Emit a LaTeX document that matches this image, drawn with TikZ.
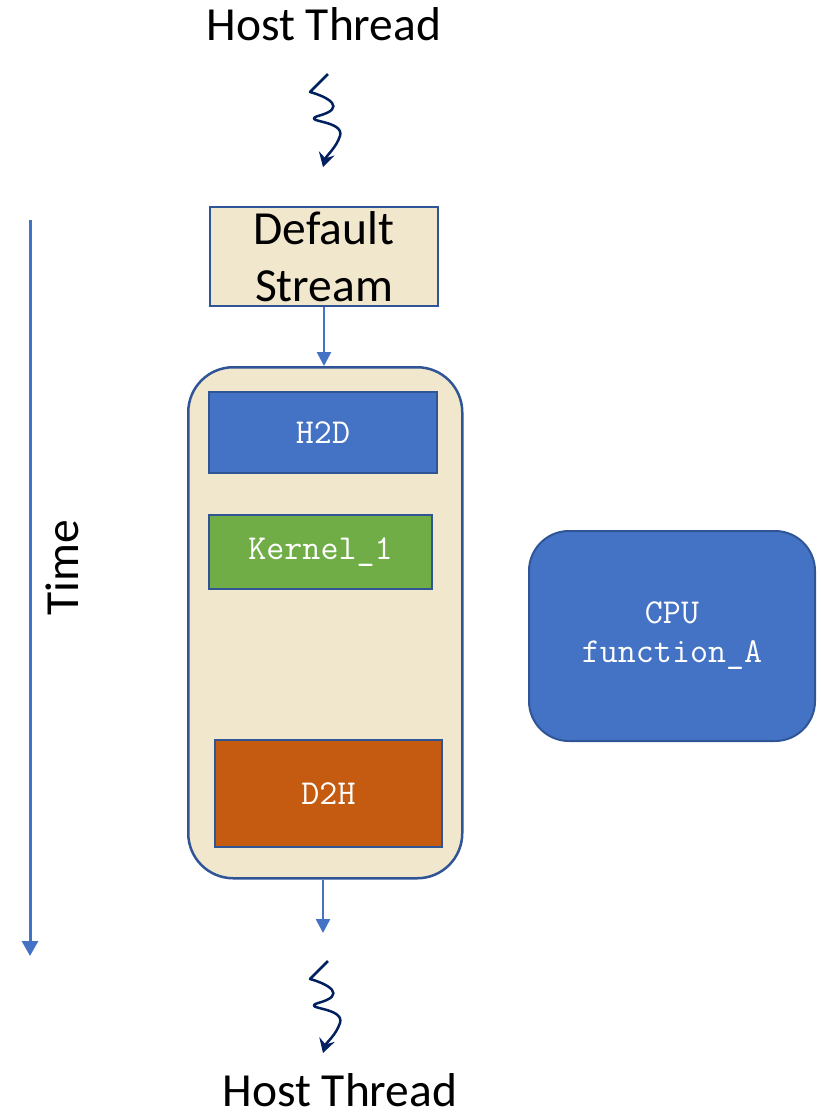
\documentclass[tikz,border=0pt]{standalone}
\usepackage{fontspec}
\setmainfont{Carlito}
\usetikzlibrary{arrows.meta}
\definecolor{beige}{HTML}{F1E7CC}
\definecolor{edge}{HTML}{2F5597}
\definecolor{accblue}{HTML}{4472C4}
\definecolor{accgreen}{HTML}{70AD47}
\definecolor{accorange}{HTML}{C55A11}
\definecolor{navy}{HTML}{002060}
\tikzset{
  label text/.style={font=\fontsize{47.5}{57}\selectfont, text=black, align=center},
  task/.style={draw=edge, line width=2pt, anchor=north west,
    font=\ttfamily\fontsize{35}{39}\selectfont, text=white, align=center},
  flow/.style={draw=accblue, line width=2.5pt, -{Triangle[width=14pt,length=14pt]}},
  squiggle/.style={draw=navy, line width=2.5pt, line join=round,
    -{Stealth[width=16pt,length=14pt,inset=5pt]}}
}
\begin{document}
\begin{tikzpicture}[x=1pt,y=-1pt]
\useasboundingbox (0,0) rectangle (821,1117);

% thread labels
\node[font=\fontsize{47.5}{57}\selectfont, inner sep=0pt, anchor=base] (htop) at (324,40) {Host Thread};
\node[font=\fontsize{47.5}{57}\selectfont, inner sep=0pt, anchor=base] (hbot) at (340,1106) {Host Thread};

% default stream head box
\node[draw=edge, fill=beige, line width=2pt, minimum width=228pt, minimum height=99pt,
  inner sep=0pt, anchor=north west, label text]
  (ds) at (209,206) {Default\\Stream};

% stream container
\node[draw=edge, fill=beige, line width=2.5pt, rounded corners=45pt,
  minimum width=274pt, minimum height=511pt, anchor=north west, inner sep=0pt]
  (stream) at (187,366) {};

% operations in the stream
\node[task, fill=accblue, minimum width=228pt, minimum height=81pt] (h2d) at (208,391) {H2D};
\node[task, fill=accgreen, minimum width=223pt, minimum height=74pt] (k1) at (208,514) {Kernel\_1};
\node[task, fill=accorange, minimum width=227pt, minimum height=107pt] (d2h) at (214,739) {D2H};

% host-side work
\node[task, fill=accblue, rounded corners=40pt, minimum width=286pt, minimum height=210pt]
  (cpu) at (528,530) {CPU\\function\_A};

% time axis
\coordinate (t0) at (30,220);
\coordinate (t1) at (30,956);
\draw[draw=accblue, line width=3pt, -{Triangle[width=16pt,length=15pt]}] (t0) -- (t1);
\node[label text, rotate=90] (time) at (62,568) {Time};

% flow arrows
\draw[flow] (ds.south) -- (stream.north -| ds.south);
\coordinate (below) at (323,933);
\draw[flow] (stream.south -| below) -- (below);

% thread squiggles
\coordinate (s1) at (328,74);
\coordinate (e1) at (323,167);
\draw[squiggle] (s1) -- (310,92) .. controls (328,97) and (348,108) .. (318,116)
  .. controls (300,122) and (345,120) .. (340,136) .. controls (336,148) and (326,156) .. (e1);
\coordinate (s2) at (328,961);
\coordinate (e2) at (323,1053);
\draw[squiggle] (s2) -- (310,979) .. controls (328,984) and (348,995) .. (318,1003)
  .. controls (300,1009) and (345,1007) .. (340,1023) .. controls (336,1035) and (326,1043) .. (e2);
\end{tikzpicture}
\end{document}
